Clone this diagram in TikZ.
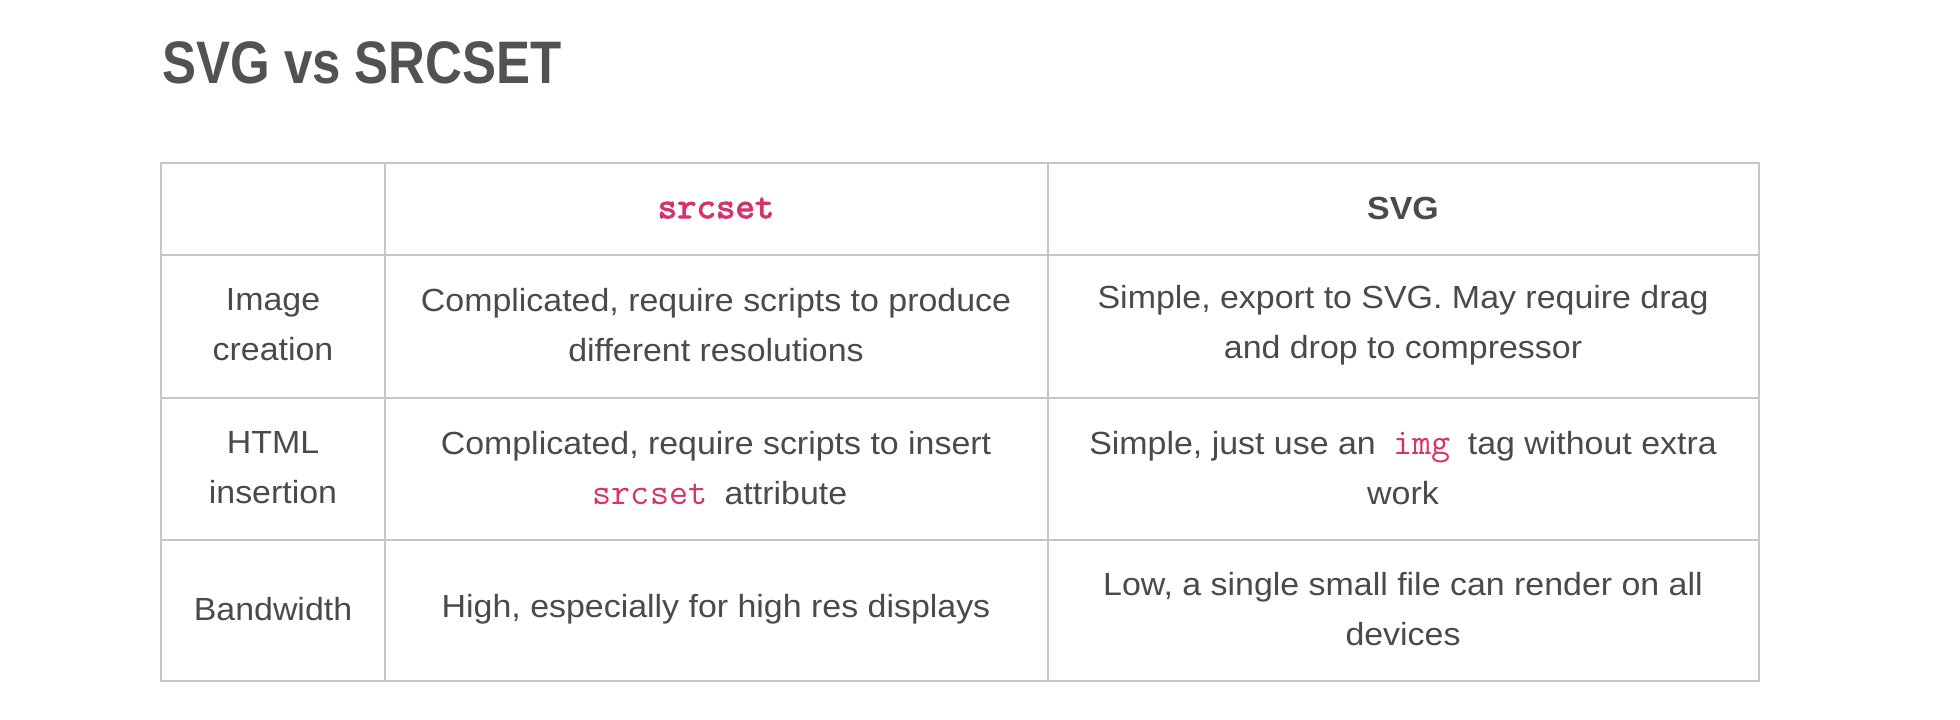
\documentclass[tikz,border=0pt]{standalone}
\usepackage{fontspec}
\setmainfont[FakeStretch=1.06]{Liberation Sans}
\newfontfamily\titlefont[FakeStretch=0.85]{Liberation Sans}
\newfontfamily\codeboldfont[FakeBold=2.5]{lmmono10-regular.otf}
\usetikzlibrary{positioning}
\definecolor{txtgray}{HTML}{4A4A4A}
\definecolor{titlegray}{HTML}{525252}
\definecolor{codepink}{HTML}{D6336C}
\definecolor{rulegray}{HTML}{C6C6C6}
\newcommand{\codetxt}[1]{\hspace{0.25em}{\fontsize{37}{50}\ttfamily\color{codepink}#1}\hspace{0.25em}}
\tikzset{
    cell/.style={align=center, text=txtgray, inner sep=0pt,
        font=\fontsize{32}{50}\selectfont},
    rule/.style={draw=rulegray, line width=2pt}
}

\begin{document}
\begin{tikzpicture}[x=1pt, y=-1pt]
\useasboundingbox (0,0) rectangle (1960,720);
% title
\node[anchor=base west, inner sep=0pt, text=titlegray,
    font=\fontsize{60}{60}\titlefont\bfseries] (title) at (162,83) {SVG vs SRCSET};

% grid
\draw[rule] (161,163) rectangle (1759,681);
\draw[rule] (385,163) -- (385,681);
\draw[rule] (1048,163) -- (1048,681);
\draw[rule] (161,255) -- (1759,255);
\draw[rule] (161,398) -- (1759,398);
\draw[rule] (161,540) -- (1759,540);

% header row
\node[cell] (headsrc) at (716,208) {\fontsize{37}{50}\codeboldfont\color{codepink}srcset};
\node[cell] (headsvg) at (1403,208) {\textbf{SVG}};

% image creation
\node[cell] (imglab) at (273,325) {Image\\creation};
\node[cell] (imgsrc) at (716,325) {Complicated, require scripts to produce\\different resolutions};
\node[cell] (imgsvg) at (1403,325) {Simple, export to SVG. May require drag\\and drop to compressor};

% html insertion
\node[cell] (htmllab) at (273,468) {HTML\\insertion};
\node[cell] (htmlsrc) at (716,468) {Complicated, require scripts to insert\\\codetxt{srcset} attribute};
\node[cell] (htmlsvg) at (1403,468) {Simple, just use an \codetxt{img} tag without extra\\work};

% bandwidth
\node[cell] (bwlab) at (273,609) {Bandwidth};
\node[cell] (bwsrc) at (716,609) {High, especially for high res displays};
\node[cell] (bwsvg) at (1403,609) {Low, a single small file can render on all\\devices};
\end{tikzpicture}
\end{document}
